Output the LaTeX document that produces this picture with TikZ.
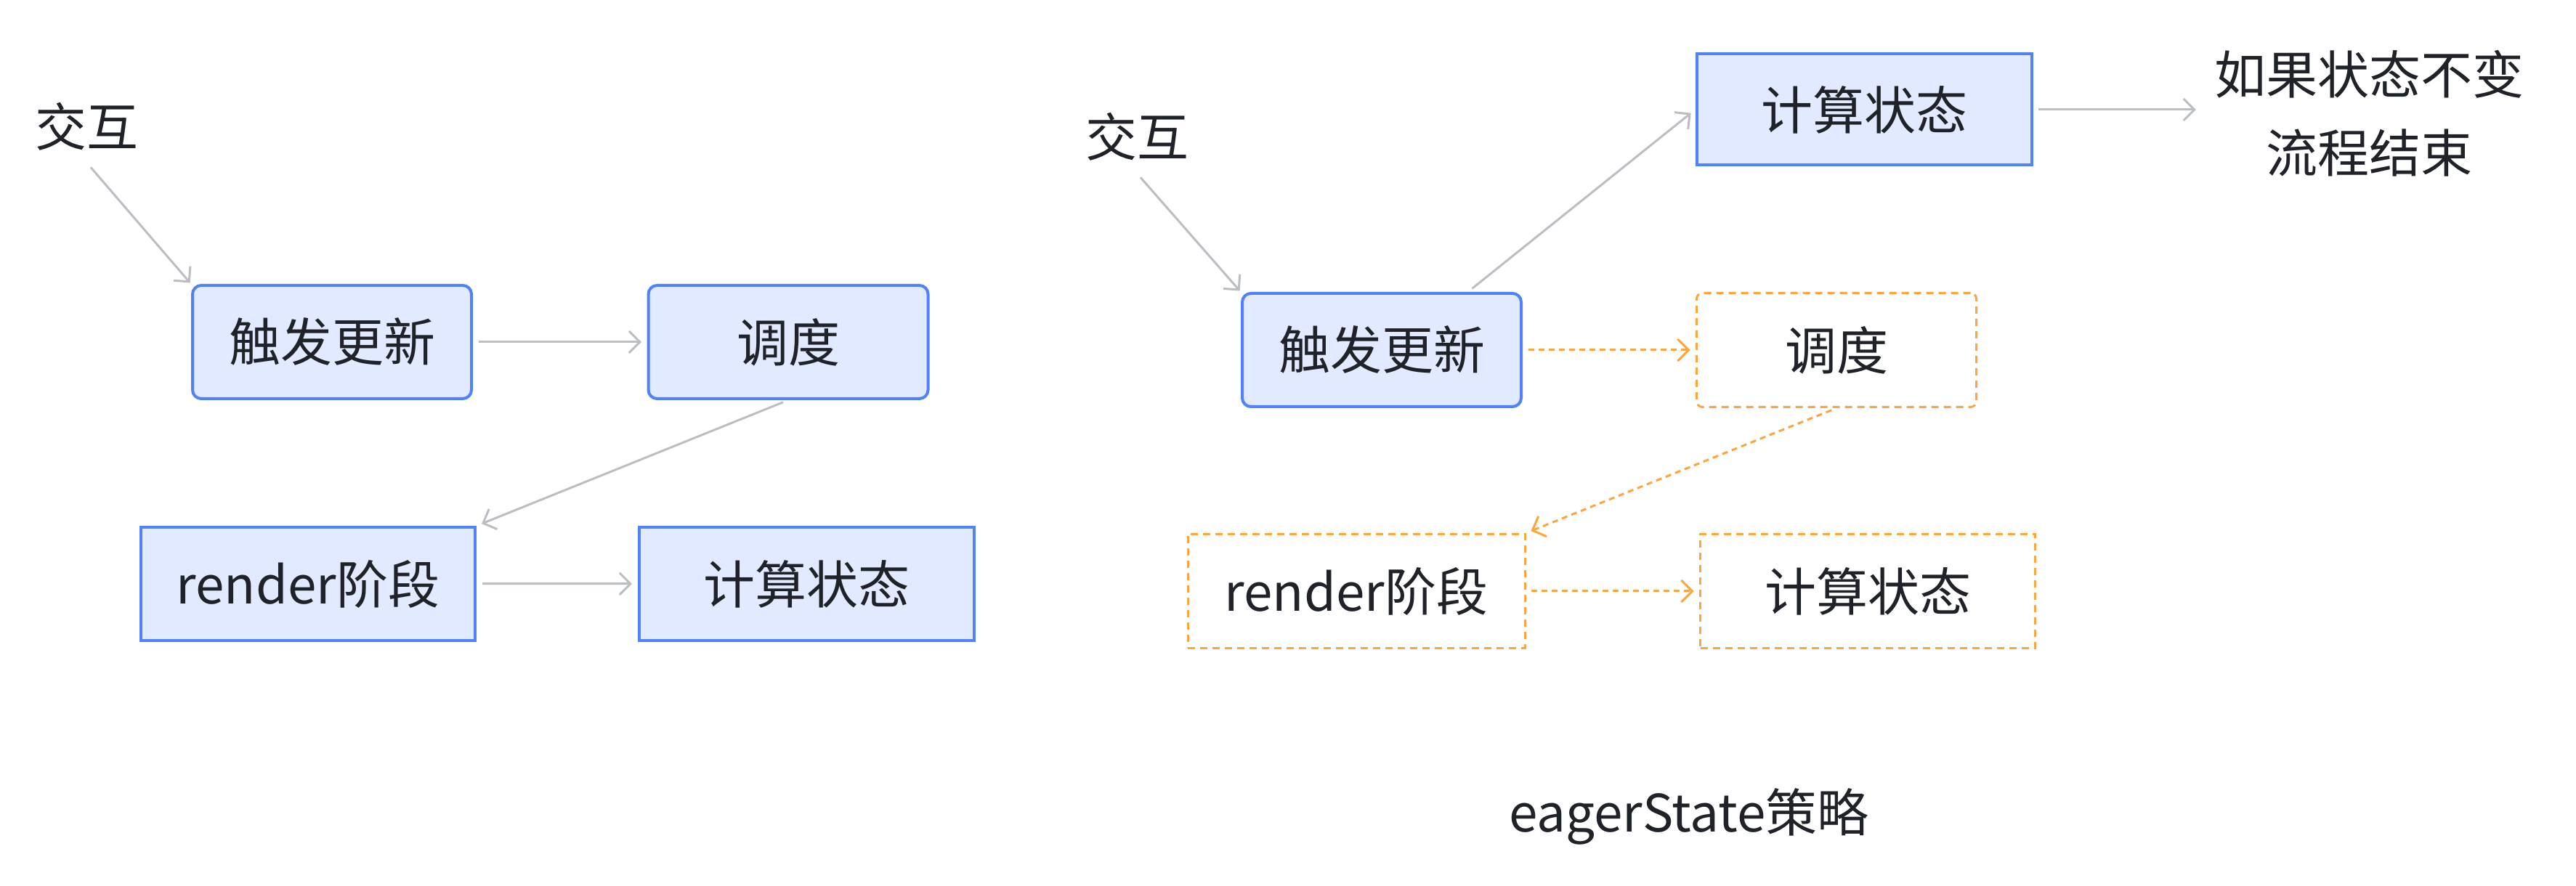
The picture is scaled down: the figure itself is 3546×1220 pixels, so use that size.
\documentclass[tikz,border=0pt]{standalone}
\usepackage{fontspec}
\setmainfont{Noto Sans CJK SC}
\usetikzlibrary{arrows.meta}
\definecolor{boxblue}{HTML}{4E83FD}
\definecolor{boxfill}{HTML}{E1EAFF}
\definecolor{flowgray}{HTML}{BBBFC4}
\definecolor{floworange}{HTML}{FFA53D}
\definecolor{ink}{HTML}{1F2329}
\begin{document}
\begin{tikzpicture}[x=0.2pt,y=-0.2pt,
    every node/.style={font=\fontsize{14.2}{21.7}\selectfont,text=ink},
    stage/.style={draw=boxblue,fill=boxfill,line width=0.8pt,minimum height=31.2pt,inner sep=0pt},
    softstage/.style={stage,rounded corners=2.4pt},
    skipped/.style={draw=floworange,line width=0.6pt,dash pattern=on 2pt off 1.4pt,minimum height=31.4pt,inner sep=0pt},
    flow/.style={-{Straight Barb[length=3pt,width=6pt]},draw=flowgray,line width=0.6pt,shorten >=1.5pt,shorten <=1.5pt},
    skipflow/.style={flow,draw=floworange,dash pattern=on 1.6pt off 1.2pt}]
    \useasboundingbox (0,0) rectangle (3546,1220);

    % Normal path (left)
    \node (act) at (120,174) {交互};
    \node[softstage,minimum width=76.8pt] (trig) at (457,471) {触发更新};
    \node[softstage,minimum width=77pt] (sched) at (1085,471) {调度};
    \node[stage,minimum width=92pt] (render) at (424,804) {render阶段};
    \node[stage,minimum width=92.2pt] (calc) at (1110,804) {计算状态};

    \draw[flow,shorten >=0.4pt] (act.south) -- (trig.north west);
    \draw[flow] (trig.east) -- (sched.west);
    \draw[flow] (sched.south) -- (render.north east);
    \draw[flow] (render.east) -- (calc.west);

    % eagerState path (right)
    \node (act2) at (1565,188) {交互};
    \node[softstage,minimum width=76.8pt] (trig2) at (1902,482) {触发更新};
    \node[stage,minimum width=92.2pt,minimum height=30.6pt] (early) at (2566,151) {计算状态};
    \node[align=center] (stop) at (3261,156) {如果状态不变\\流程结束};
    \node[skipped,rounded corners=1.6pt,minimum width=77pt] (sched2) at (2528,482) {调度};
    \node[skipped,minimum width=92.8pt] (render2) at (1867,814) {render阶段};
    \node[skipped,minimum width=92.2pt] (calc2) at (2571,814) {计算状态};

    \draw[flow,shorten >=0.4pt] (act2.south) -- (trig2.north west);
    \draw[flow] (trig2.34) -- (early.west);
    \draw[flow] (early.east) -- (early.east -| stop.west);
    \draw[skipflow] (trig2.east) -- (sched2.west);
    \draw[skipflow] (sched2.south) -- (render2.north east);
    \draw[skipflow] (render2.east) -- (calc2.west);

    % Caption
    \node (caption) at (2325,1124) {eagerState策略};
\end{tikzpicture}
\end{document}
